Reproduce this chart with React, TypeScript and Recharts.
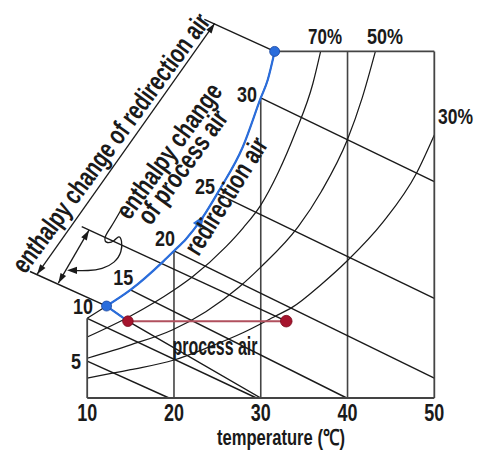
import React from 'react';
import { ComposedChart, Line, XAxis, YAxis, ReferenceLine, ReferenceDot } from 'recharts';

type Pt = { x: number; y: number };

// ---------- data (x = temperature °C, y = humidity ratio, chart units) ----------
const TEMP_TICKS = [10, 20, 30, 40, 50];

const FRAME_SEGMENTS: Pt[][] = [
  [{ x: 10, y: 0 }, { x: 50, y: 0 }],
  [{ x: 50, y: 0 }, { x: 50, y: 30 }],
  [{ x: 31.6, y: 30 }, { x: 50, y: 30 }],
  [{ x: 10, y: 0 }, { x: 10, y: 6.9 }],
];

const GRID_SEGMENTS: Pt[][] = [
  [{ x: 20, y: 0 }, { x: 20, y: 12.73 }],
  [{ x: 30, y: 0 }, { x: 30, y: 25.97 }],
  [{ x: 40, y: 0 }, { x: 40, y: 30 }],
];

const SATURATION: Pt[] = [
  { x: 10, y: 6.9 }, { x: 12.23, y: 7.96 }, { x: 14.98, y: 9.35 }, { x: 18.8, y: 11.85 },
  { x: 20, y: 12.73 }, { x: 21.37, y: 13.75 }, { x: 23.11, y: 15.41 }, { x: 25.24, y: 18.01 },
  { x: 27.94, y: 21.75 }, { x: 30, y: 25.97 }, { x: 30.8, y: 27.53 }, { x: 31.6, y: 30 },
];

const RH70: Pt[] = [
  { x: 10, y: 5.28 }, { x: 15, y: 7.1 }, { x: 20, y: 9.35 }, { x: 22.14, y: 10.5 },
  { x: 26, y: 13.1 }, { x: 28, y: 14.75 }, { x: 30, y: 16.7 }, { x: 32, y: 19.5 },
  { x: 34, y: 23.0 }, { x: 36, y: 27.2 }, { x: 36.9, y: 30 },
];

const RH50: Pt[] = [
  { x: 10, y: 3.44 }, { x: 15, y: 4.6 }, { x: 19.8, y: 5.89 }, { x: 23.67, y: 7.47 },
  { x: 27.55, y: 9.63 }, { x: 30.06, y: 11.37 }, { x: 34.32, y: 14.83 }, { x: 37, y: 17.9 },
  { x: 39.97, y: 22.33 }, { x: 41.7, y: 26.0 }, { x: 43.21, y: 30 },
];

const RH30: Pt[] = [
  { x: 10, y: 1.73 }, { x: 15, y: 2.45 }, { x: 20, y: 3.29 }, { x: 24, y: 4.4 },
  { x: 27.94, y: 5.65 }, { x: 31.72, y: 7.1 }, { x: 33.57, y: 7.82 }, { x: 37, y: 9.85 },
  { x: 40, y: 11.9 }, { x: 44.06, y: 15.2 }, { x: 47.96, y: 19.48 }, { x: 50, y: 22.77 },
];

const ENTHALPY_LINES: Pt[][] = [
  [{ x: 10, y: 3.2 }, { x: 19.43, y: 0 }],
  [{ x: 10, y: 6.9 }, { x: 29.5, y: 0 }],
  [{ x: 14.98, y: 9.35 }, { x: 39.9, y: 0 }],
  [{ x: 20, y: 12.73 }, { x: 50, y: 1.71 }],
  [{ x: 24.98, y: 17.69 }, { x: 50, y: 8.63 }],
  [{ x: 30, y: 25.97 }, { x: 50, y: 18.72 }],
];

const PROCESS_OUTLET_LINE: Pt[] = [{ x: 9.37, y: 14.83 }, { x: 32.94, y: 6.65 }];
const UPPER_EXTENSION: Pt[] = [{ x: 23.5, y: 32.78 }, { x: 31.6, y: 30 }];
const LOWER_EXTENSION: Pt[] = [
  { x: 3.41, y: 10.95 }, { x: 12.23, y: 7.96 }, { x: 14.69, y: 6.65 }, { x: 30, y: 0 },
];

const DIM_REDIRECTION: Pt[] = [{ x: 4.22, y: 10.71 }, { x: 24.69, y: 32.42 }];
const DIM_PROCESS: Pt[] = [{ x: 6.67, y: 9.94 }, { x: 10.21, y: 14.53 }];

const LEADER: Pt[] = [
  { x: 13.89, y: 16.27 }, { x: 12.7, y: 14.71 }, { x: 11.87, y: 13.85 }, { x: 12.23, y: 13.33 },
  { x: 13.18, y: 13.59 }, { x: 13.65, y: 14.11 }, { x: 14.01, y: 13.68 }, { x: 14.01, y: 12.64 },
  { x: 13.18, y: 11.69 }, { x: 11.76, y: 11.17 }, { x: 10.09, y: 11.0 }, { x: 8.48, y: 11.04 },
];
const LEADER_TIP: Pt = { x: 7.67, y: 11.05 };

const PROCESS_IN: Pt = { x: 14.69, y: 6.65 };
const PROCESS_OUT: Pt = { x: 32.94, y: 6.65 };
const REDIRECTION_IN: Pt = { x: 12.23, y: 7.96 };
const REDIRECTION_OUT: Pt = { x: 31.6, y: 30 };
const FLOW_ARROW: Pt = { x: 23.11, y: 15.41 };

const PROCESS_PATH: Pt[] = [PROCESS_IN, PROCESS_OUT];
const REDIRECTION_START: Pt[] = [PROCESS_IN, REDIRECTION_IN];
const REDIRECTION_CURVE: Pt[] = SATURATION.slice(1);

// ---------- styling ----------
const INK = '#1a1a1a';
const FRAME = '#444444';
const BLUE = '#2a6ddc';
const RED_LINE = '#b1505e';
const RED_DOT = '#a5142d';
const FONT = "'Liberation Sans Narrow', 'Arial Narrow', 'Liberation Sans', Arial, sans-serif";

function head(tx: number, ty: number, ang: number, len: number, half: number) {
  const bx = tx - Math.cos(ang) * len;
  const by = ty - Math.sin(ang) * len;
  const nx = -Math.sin(ang) * half;
  const ny = Math.cos(ang) * half;
  return `${tx},${ty} ${bx + nx},${by + ny} ${bx - nx},${by - ny}`;
}

const DimLine = (p: any) => {
  const { x1, y1, x2, y2 } = p;
  const a = Math.atan2(y2 - y1, x2 - x1);
  return (
    <g>
      <line x1={x1} y1={y1} x2={x2} y2={y2} stroke={INK} strokeWidth={1.3} />
      <polygon points={head(x2, y2, a, 10, 3.2)} fill={INK} />
      <polygon points={head(x1, y1, a + Math.PI, 10, 3.2)} fill={INK} />
    </g>
  );
};

const LeftHead = (p: any) => <polygon points={head(p.cx, p.cy, Math.PI, 10, 3.6)} fill={INK} />;

const FlowHead = (p: any) => {
  const a = (-55.7 * Math.PI) / 180;
  return <polygon points={head(p.cx + Math.cos(a) * 6, p.cy + Math.sin(a) * 6, a, 13, 5)} fill={BLUE} />;
};

const TempTick = (p: any) => (
  <text x={p.x} y={p.y} dy={23} textAnchor="middle" fontFamily={FONT} fontWeight={700}
    fontSize={23} fill={INK} textLength={20} lengthAdjust="spacingAndGlyphs">
    {p.payload.value}
  </text>
);

const T = ({ x, y, s, len, rot, size = 22, w = 700 }: any) => (
  <text x={x} y={y} textAnchor="middle" dominantBaseline={rot !== undefined ? 'central' : undefined}
    transform={rot !== undefined ? `rotate(${rot} ${x} ${y})` : undefined}
    fontFamily={FONT} fontWeight={w} fontSize={size} fill={INK}
    textLength={len} lengthAdjust="spacingAndGlyphs">{s}</text>
);

const seg = (s: Pt[]) => [{ x: s[0].x, y: s[0].y }, { x: s[1].x, y: s[1].y }] as any;

export default function App() {
  return (
    <div style={{ position: 'relative', width: 481, height: 452 }}>
      <style>{'body{margin:0}'}</style>
      <ComposedChart width={481} height={452} margin={{ top: 5.2, right: 3.3, bottom: 0, left: 9.1 }}>
        <XAxis type="number" dataKey="x" domain={[1, 55]} ticks={TEMP_TICKS} allowDataOverflow
          axisLine={false} tickLine={false} tickSize={0} tickMargin={0} height={54} interval={0}
          tick={TempTick} />
        <YAxis type="number" dataKey="y" domain={[0, 34]} allowDataOverflow hide />

        {GRID_SEGMENTS.map((s, i) => (
          <ReferenceLine key={'g' + i} segment={seg(s)} stroke={FRAME} strokeWidth={1.6} ifOverflow="visible" />
        ))}
        {ENTHALPY_LINES.map((s, i) => (
          <ReferenceLine key={'e' + i} segment={seg(s)} stroke={INK} strokeWidth={1.4} ifOverflow="visible" />
        ))}
        <ReferenceLine segment={seg(PROCESS_OUTLET_LINE)} stroke={INK} strokeWidth={1.4} ifOverflow="visible" />
        <ReferenceLine segment={seg(UPPER_EXTENSION)} stroke={INK} strokeWidth={1.4} ifOverflow="visible" />
        <Line data={LOWER_EXTENSION} dataKey="y" type="linear" stroke={INK} strokeWidth={1.4} dot={false} isAnimationActive={false} />
        <ReferenceLine segment={seg(DIM_REDIRECTION)} ifOverflow="visible" shape={DimLine} />
        <ReferenceLine segment={seg(DIM_PROCESS)} ifOverflow="visible" shape={DimLine} />
        <Line data={LEADER} dataKey="y" type="basis" stroke={INK} strokeWidth={1.3} dot={false} isAnimationActive={false} />
        <ReferenceDot x={LEADER_TIP.x} y={LEADER_TIP.y} r={4} ifOverflow="visible" shape={LeftHead} />

        <Line data={RH70} dataKey="y" type="monotone" stroke={INK} strokeWidth={1.25} dot={false} isAnimationActive={false} />
        <Line data={RH50} dataKey="y" type="monotone" stroke={INK} strokeWidth={1.25} dot={false} isAnimationActive={false} />
        <Line data={RH30} dataKey="y" type="monotone" stroke={INK} strokeWidth={1.25} dot={false} isAnimationActive={false} />
        <Line data={SATURATION} dataKey="y" type="monotone" stroke={INK} strokeWidth={1.25} dot={false} isAnimationActive={false} />

        {FRAME_SEGMENTS.map((s, i) => (
          <ReferenceLine key={'f' + i} segment={seg(s)} stroke={FRAME} strokeWidth={1.8} ifOverflow="visible" />
        ))}

        <Line data={PROCESS_PATH} dataKey="y" type="linear" stroke={RED_LINE} strokeWidth={2} dot={false} isAnimationActive={false} />
        <Line data={REDIRECTION_START} dataKey="y" type="linear" stroke={BLUE} strokeWidth={2.2} dot={false} isAnimationActive={false} />
        <Line data={REDIRECTION_CURVE} dataKey="y" type="monotone" stroke={BLUE} strokeWidth={2.2} dot={false} isAnimationActive={false} />
        <ReferenceDot x={FLOW_ARROW.x} y={FLOW_ARROW.y} r={5} ifOverflow="visible" shape={FlowHead} />

        <ReferenceDot x={PROCESS_IN.x} y={PROCESS_IN.y} r={5.3} fill={RED_DOT} stroke="#7a0c1e" strokeWidth={0.8} ifOverflow="visible" />
        <ReferenceDot x={PROCESS_OUT.x} y={PROCESS_OUT.y} r={5.8} fill={RED_DOT} stroke="#7a0c1e" strokeWidth={0.8} ifOverflow="visible" />
        <ReferenceDot x={REDIRECTION_IN.x} y={REDIRECTION_IN.y} r={5} fill={BLUE} stroke="#1a46a0" strokeWidth={0.8} ifOverflow="visible" />
        <ReferenceDot x={REDIRECTION_OUT.x} y={REDIRECTION_OUT.y} r={5} fill={BLUE} stroke="#1a46a0" strokeWidth={0.8} ifOverflow="visible" />
      </ComposedChart>

      <svg width={481} height={452} style={{ position: 'absolute', left: 0, top: 0, pointerEvents: 'none' }}>
        <T x={281} y={445} s="temperature (℃)" len={128} />
        <T x={325} y={44} s="70%" len={34} />
        <T x={385} y={44} s="50%" len={36} />
        <T x={455.5} y={124} s="30%" len={35} />
        <T x={76} y={369} s="5" len={10} />
        <T x={83} y={314} s="10" len={20} />
        <T x={123.3} y={285} s="15" len={20} />
        <T x={165} y={246} s="20" len={20} />
        <T x={205} y={194} s="25" len={20} />
        <T x={247} y={101.5} s="30" len={20} />
        <T x={215} y={355} s="process air" len={85} size={25} />
        <T x={111} y={143} s="enthalpy change of redirection air" len={314} size={27} rot={-53.7} />
        <T x={169} y={151} s="enthalpy change" len={160} size={27} rot={-54} />
        <T x={182.5} y={167} s="of process air" len={134} size={27} rot={-54} />
        <T x={226} y={196} s="redirection air" len={133} size={27} rot={-58} />
      </svg>
    </div>
  );
}
